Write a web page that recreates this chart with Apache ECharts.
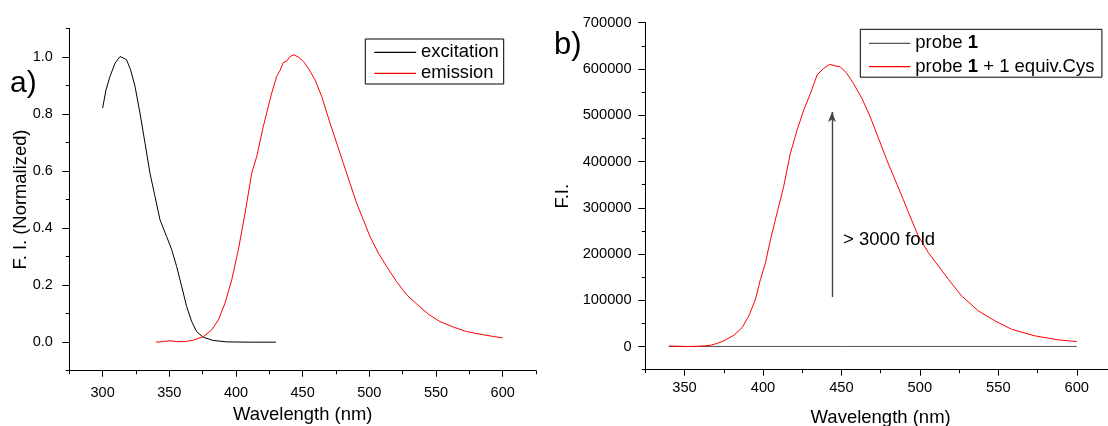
<!DOCTYPE html>
<html>
<head>
<meta charset="utf-8">
<script src="https://cdn.jsdelivr.net/npm/echarts@6/dist/echarts.min.js"></script>
<style>
html,body{margin:0;padding:0;background:#fff;}
#chart{width:1108px;height:426px;}
</style>
</head>
<body>
<div id="chart"></div>
<script>
// ---- Panel a) data ----
const excWl  = [300, 302.5, 305.5, 309.3, 313, 316, 318, 321, 324.3, 328, 331.8, 335.5, 339.3, 343, 348, 351.8, 355.5, 359.3, 363, 366.8, 370.5, 375.5, 383, 393, 410, 430];
const excVal = [0.820, 0.884, 0.931, 0.978, 1.001, 0.995, 0.989, 0.954, 0.896, 0.803, 0.697, 0.592, 0.510, 0.429, 0.370, 0.324, 0.265, 0.195, 0.125, 0.072, 0.037, 0.017, 0.006, 0.001, 0, 0];
const emWl  = [340, 345.5, 350.5, 355.5, 361.8, 368, 375.8, 381.8, 386.8, 391.8, 396.8, 401.8, 406.8, 411.8, 415.5, 420.5, 423, 426.8, 430.5, 433, 435.5, 438, 440.5, 443.5, 446.8, 450.5, 454.3, 459.3, 464.3, 470.5, 475.5, 480.5, 485.5, 490.5, 495.5, 500.5, 506.8, 513, 520.5, 528, 535.5, 544.3, 553, 563, 573, 583, 593, 600];
const emVal = [0, 0.002, 0.005, 0.002, 0.002, 0.007, 0.020, 0.043, 0.078, 0.137, 0.218, 0.324, 0.452, 0.592, 0.650, 0.756, 0.803, 0.873, 0.931, 0.952, 0.980, 0.985, 1.001, 1.007, 0.999, 0.984, 0.960, 0.919, 0.861, 0.768, 0.698, 0.627, 0.557, 0.487, 0.429, 0.370, 0.312, 0.265, 0.212, 0.166, 0.134, 0.098, 0.072, 0.053, 0.037, 0.028, 0.020, 0.015];

// ---- Panel b) data ----
const probeWl  = [340, 400, 450, 500, 550, 600];
const probeVal = [300, 200, 200, 200, 200, 200];
const cysWl  = [340, 345, 352, 358, 363, 366.6, 371, 375, 381.4, 386.7, 391, 395.2, 398.4, 401.6, 404.8, 409, 413.2, 417.5, 421.8, 426, 430.3, 434.5, 438.7, 442.6, 446.2, 449.2, 453.4, 457.6, 463, 468.3, 473.6, 478.9, 484.2, 489.5, 492.7, 499, 505.4, 511.8, 518.2, 526.6, 537.3, 547.9, 558.5, 573.4, 588.1, 600];
const cysVal = [1000, 800, 0, 600, 1500, 2800, 7000, 12300, 24400, 41000, 66300, 102000, 145300, 181300, 231600, 289200, 346000, 418000, 468400, 511500, 547600, 587100, 601500, 610000, 606500, 605000, 590700, 569000, 536800, 497000, 450400, 403600, 360400, 317300, 290000, 239000, 202900, 174200, 145300, 109400, 77000, 55500, 37300, 23100, 14500, 10800];

// ---- ticks ----
const aXMajor = [300, 350, 400, 450, 500, 550, 600];
const aXMinor = [275, 325, 375, 425, 475, 525, 575, 625];
const aYMajor = [0, 0.2, 0.4, 0.6, 0.8, 1.0];
const aYMinor = [-0.1, 0.1, 0.3, 0.5, 0.7, 0.9, 1.1];
const bXMajor = [350, 400, 450, 500, 550, 600];
const bXMinor = [325, 375, 425, 475, 525, 575, 625];
const bYMajor = [0, 100000, 200000, 300000, 400000, 500000, 600000, 700000];
const bYMinor = [-50000, 50000, 150000, 250000, 350000, 450000, 550000, 650000];

// ---- annotations ----
const arrowWl = 444, arrowFrom = 107000, arrowTo = 507000;
const foldText = '> 3000 fold', foldWl = 451, foldVal = 231000;

const FONT = '"Liberation Sans", Arial, sans-serif';
const zip = (a, b) => a.map((v, i) => [v, b[i]]);

function mainAxis(dim, grid, min, max, major, fmt, o) {
  return {
    type: 'value', gridIndex: grid, min: min, max: max,
    position: dim === 'x' ? 'bottom' : 'left',
    axisLine: {show: true, onZero: false, lineStyle: {color: '#000', width: 1}},
    axisTick: {show: true, customValues: major, length: o.majorLen, lineStyle: {color: '#000', width: 1}},
    axisLabel: {show: true, customValues: major, formatter: fmt, margin: o.margin,
      fontSize: o.labelSize, fontFamily: FONT, color: '#000'},
    splitLine: {show: false},
    name: o.name, nameLocation: 'middle', nameGap: o.nameGap, nameMoveOverlap: false,
    nameTextStyle: {fontSize: o.nameSize, fontFamily: FONT, color: '#000'}
  };
}
function minorAxis(dim, grid, min, max, minor, len) {
  return {
    type: 'value', gridIndex: grid, min: min, max: max,
    position: dim === 'x' ? 'bottom' : 'left',
    axisLine: {show: false, onZero: false},
    axisTick: {show: true, customValues: minor, length: len, lineStyle: {color: '#000', width: 1}},
    axisLabel: {show: false},
    splitLine: {show: false}
  };
}

const chart = echarts.init(document.getElementById('chart'), null, {renderer: 'canvas'});
chart.setOption({
  animation: false,
  backgroundColor: '#fff',
  grid: [
    {left: 69.3, right: 572, top: 28.3, bottom: 55.3, containLabel: false, outerBoundsMode: 'none'},
    {left: 645.3, right: -8, top: 22.7, bottom: 56.3, containLabel: false, outerBoundsMode: 'none'}
  ],
  xAxis: [
    mainAxis('x', 0, 275, 625, aXMajor, v => String(v), {majorLen: 6, margin: 15, labelSize: 14.5, name: 'Wavelength (nm)', nameGap: 35, nameSize: 18.4}),
    minorAxis('x', 0, 275, 625, aXMinor, 3.5),
    mainAxis('x', 1, 325, 625, bXMajor, v => String(v), {majorLen: 6, margin: 11, labelSize: 14.7, name: 'Wavelength (nm)', nameGap: 39, nameSize: 18.5}),
    minorAxis('x', 1, 325, 625, bXMinor, 3.5)
  ],
  yAxis: [
    mainAxis('y', 0, -0.1, 1.1, aYMajor, v => v.toFixed(1), {majorLen: 7, margin: 16.5, labelSize: 14.5, name: 'F. I. (Normalized)', nameGap: 39, nameSize: 18.4}),
    minorAxis('y', 0, -0.1, 1.1, aYMinor, 3.5),
    mainAxis('y', 1, -50000, 700000, bYMajor, v => String(Math.round(v)), {majorLen: 7, margin: 13.6, labelSize: 14.7, name: 'F.I.', nameGap: 73, nameSize: 18.5}),
    minorAxis('y', 1, -50000, 700000, bYMinor, 3.5)
  ],
  legend: [
    {
      data: ['excitation', 'emission'], orient: 'vertical', left: 365.3, top: 39,
      padding: [3.3, 5, 0.7, 9], itemWidth: 41.7, itemHeight: 1.2, itemGap: 1, icon: 'rect',
      borderColor: '#000', borderWidth: 1, borderRadius: 0, backgroundColor: '#fff',
      selectedMode: false,
      textStyle: {fontSize: 18.4, fontFamily: FONT, color: '#000', lineHeight: 20}
    },
    {
      data: ['probe 1', 'probe 1 + 1 equiv.Cys'], orient: 'vertical', left: 860.3, top: 29.3,
      padding: [3.5, 7.5, 0, 8.7], itemWidth: 41.3, itemHeight: 1.2, itemGap: 2.4, icon: 'rect',
      borderColor: '#000', borderWidth: 1, borderRadius: 0, backgroundColor: '#fff',
      selectedMode: false,
      formatter: function (name) {
        return name === 'probe 1' ? '{n|probe }{b|1}' : '{n|probe }{b|1}{n| + 1 equiv.Cys}';
      },
      textStyle: {
        fontSize: 18.5, fontFamily: FONT, color: '#000', lineHeight: 21,
        rich: {
          n: {fontSize: 18.5, fontFamily: FONT, color: '#000', lineHeight: 21},
          b: {fontSize: 18.5, fontFamily: FONT, color: '#000', fontWeight: 'bold', lineHeight: 21}
        }
      }
    }
  ],
  graphic: [
    {type: 'text', left: 10, top: 69, silent: true,
      style: {text: 'a)', font: '30px "Liberation Sans", Arial, sans-serif', fill: '#000'}},
    {type: 'text', left: 554, top: 30, silent: true,
      style: {text: 'b)', font: '31px "Liberation Sans", Arial, sans-serif', fill: '#000'}}
  ],
  series: [
    {name: 'excitation', type: 'line', xAxisIndex: 0, yAxisIndex: 0, data: zip(excWl, excVal),
      symbol: 'none', showSymbol: false, color: '#000', lineStyle: {color: '#000', width: 1}, silent: true},
    {name: 'emission', type: 'line', xAxisIndex: 0, yAxisIndex: 0, data: zip(emWl, emVal),
      symbol: 'none', showSymbol: false, color: '#ff0000', lineStyle: {color: '#ff0000', width: 1}, silent: true},
    {name: 'probe 1', type: 'line', xAxisIndex: 2, yAxisIndex: 2, data: zip(probeWl, probeVal),
      symbol: 'none', showSymbol: false, color: '#555', lineStyle: {color: '#555', width: 1}, silent: true},
    {name: 'probe 1 + 1 equiv.Cys', type: 'line', xAxisIndex: 2, yAxisIndex: 2, data: zip(cysWl, cysVal),
      symbol: 'none', showSymbol: false, color: '#ff0000', lineStyle: {color: '#ff0000', width: 1}, silent: true,
      markLine: {
        silent: true, symbol: ['none', 'arrow'], symbolSize: [6, 10], animation: false,
        lineStyle: {color: '#444', width: 1.4, type: 'solid'}, label: {show: false},
        emphasis: {disabled: true},
        data: [[{coord: [arrowWl, arrowFrom]}, {coord: [arrowWl, arrowTo]}]]
      },
      markPoint: {
        silent: true, symbol: 'circle', symbolSize: 0, animation: false,
        itemStyle: {color: 'rgba(0,0,0,0)'},
        label: {show: true, position: 'right', distance: 0, formatter: foldText,
          fontSize: 18.5, fontFamily: FONT, color: '#000'},
        data: [{coord: [foldWl, foldVal]}]
      }
    }
  ]
});
</script>
</body>
</html>
